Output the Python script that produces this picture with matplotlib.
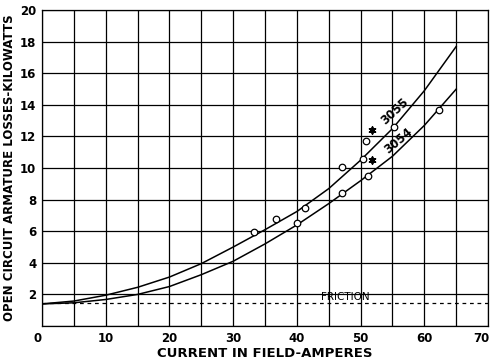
import matplotlib
matplotlib.use("Agg")
from matplotlib import pyplot as plt
from matplotlib.transforms import ScaledTranslation
import numpy as np

# Loss curves (field current in amperes, losses in kW)
curve_x = [0, 5, 10, 15, 20, 25, 30, 35, 40, 45, 50, 55, 60, 65]
loss_3055 = [1.4, 1.58, 1.95, 2.45, 3.1, 3.95, 5.0, 6.1, 7.25, 8.7, 10.5, 12.5, 14.9, 17.7]
loss_3054 = [1.4, 1.47, 1.68, 2.0, 2.5, 3.25, 4.1, 5.2, 6.4, 7.75, 9.2, 10.75, 12.7, 15.0]

# Observed test points
obs_x = [33.3, 36.7, 40.0, 41.3, 47.1, 47.1, 50.3, 50.9, 51.1, 55.3, 62.3]
obs_y = [5.95, 6.75, 6.5, 7.45, 8.45, 10.05, 10.55, 11.7, 9.5, 12.6, 13.65]
star_x = [51.8, 51.8]
star_y = [12.4, 10.5]

FRICTION = 1.45

x_ticks = [0, 10, 20, 30, 40, 50, 60, 70]
y_ticks = [2, 4, 6, 8, 10, 12, 14, 16, 18, 20]

fig = plt.figure(figsize=(4.94, 3.62), dpi=100)
ax = fig.add_axes([0.085, 0.0994, 0.903, 0.8726])

ax.set_xlim(0, 70)
ax.set_ylim(0, 20)

# Coordinate paper grid
for gx in np.arange(0, 71, 5):
    ax.axvline(gx, color="black", lw=0.9, zorder=1)
for gy in np.arange(0, 21, 2):
    ax.axhline(gy, color="black", lw=0.9, zorder=1)
for s in ax.spines.values():
    s.set_linewidth(0.9)

ax.plot(curve_x, loss_3055, color="black", lw=1.1, zorder=3)
ax.plot(curve_x, loss_3054, color="black", lw=1.1, zorder=3)
ax.axhline(FRICTION, color="black", lw=0.9, linestyle=(0, (3, 3)), zorder=2)

ax.scatter(obs_x, obs_y, s=22, facecolors="white", edgecolors="black",
           linewidths=0.9, zorder=4)
ax.scatter(star_x, star_y, s=22, marker=(6, 2, 0), color="black",
           linewidths=1.3, zorder=4)

ax.text(55.4, 13.6, "3055", rotation=43, ha="center", va="center",
        fontsize=8.5, fontweight="bold", zorder=5)
ax.text(55.9, 11.7, "3054", rotation=40, ha="center", va="center",
        fontsize=8.5, fontweight="bold", zorder=5)
ax.text(47.6, 1.85, "FRICTION", ha="center", va="center", fontsize=7.5,
        zorder=5)

ax.set_xticks(x_ticks)
ax.set_yticks(y_ticks)
ax.set_xticklabels([str(v) for v in x_ticks], fontsize=8.5, fontweight="bold")
ax.set_yticklabels([str(v) for v in y_ticks], fontsize=8.5, fontweight="bold")
ax.tick_params(length=0, pad=4)
xlabels = ax.get_xticklabels()
xlabels[0].set_ha("right")
# keep the last label inside the figure edge
xlabels[-1].set_transform(xlabels[-1].get_transform()
                          + ScaledTranslation(-0.07, 0, fig.dpi_scale_trans))

ax.set_xlabel("CURRENT IN FIELD-AMPERES", fontsize=9.5, fontweight="bold",
              labelpad=2)
ax.set_ylabel("OPEN CIRCUIT ARMATURE LOSSES-KILOWATTS", fontsize=8.5,
              fontweight="bold", labelpad=3)

fig.savefig("out.png", dpi=100)
